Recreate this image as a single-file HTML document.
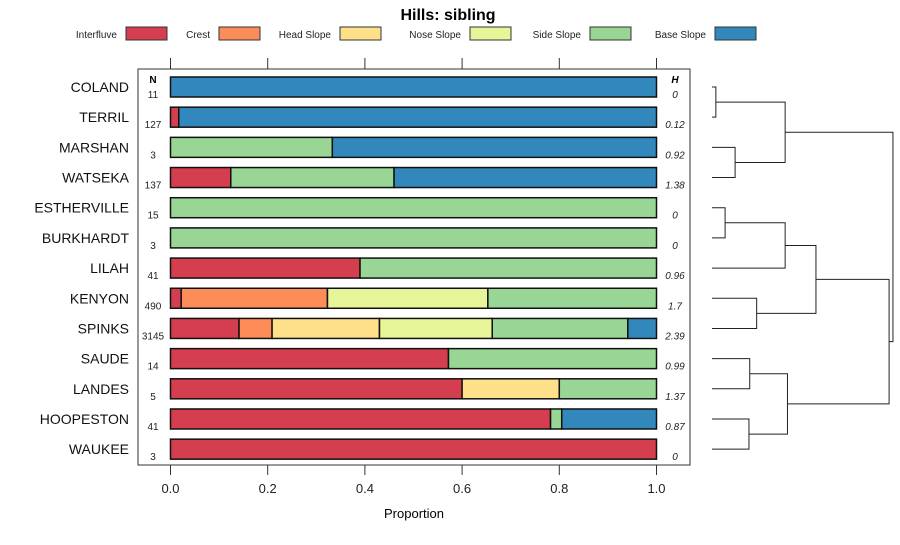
<!DOCTYPE html>
<html><head><meta charset="utf-8"><style>
body{margin:0;background:#fff;}
svg text{font-family:"Liberation Sans",sans-serif;}
</style></head><body>
<svg id="c" width="900" height="540" xmlns="http://www.w3.org/2000/svg">
<text x="448" y="20" text-anchor="middle" font-size="16" font-weight="bold">Hills: sibling</text>
<g id="legend"></g>
<rect x="138" y="69" width="552" height="396" fill="none" stroke="#333"/>
<g id="bars"></g>
<g id="axis"></g>
<text x="414" y="518" text-anchor="middle" font-size="13">Proportion</text>
<g id="dendro"></g>
</svg>
<script>
const classes=["Interfluve","Crest","Head Slope","Nose Slope","Side Slope","Base Slope"];
const colors=["#D53E4F","#FC8D59","#FEE08B","#E6F598","#99D594","#3288BD"];
const series=["COLAND","TERRIL","MARSHAN","WATSEKA","ESTHERVILLE","BURKHARDT","LILAH","KENYON","SPINKS","SAUDE","LANDES","HOOPESTON","WAUKEE"];
const props=[
[0,0,0,0,0,1],
[0.017,0,0,0,0,0.983],
[0,0,0,0,0.333,0.667],
[0.124,0,0,0,0.336,0.54],
[0,0,0,0,1,0],
[0,0,0,0,1,0],
[0,0,0,0,0.61,0].map((v,i)=>i===0?0.39:v),
[0.022,0.301,0,0.33,0.347,0],
[0.141,0.068,0.221,0.232,0.279,0.059],
[0.572,0,0,0,0.428,0],
[0.6,0,0.2,0,0.2,0],
[0.782,0,0,0,0.023,0.195],
[1,0,0,0,0,0]];
const nVals=["11","127","3","137","15","3","41","490","3145","14","5","41","3"];
const hVals=["0","0.12","0.92","1.38","0","0","0.96","1.7","2.39","0.99","1.37","0.87","0"];
const ticks=[0,0.2,0.4,0.6,0.8,1.0];
const tickLabels=["0.0","0.2","0.4","0.6","0.8","1.0"];
// dendrogram merges: [left, right, height]; negative = leaf index (-(i+1)), positive = merge index+1
const merges=[[-1,-2,0.05],[-3,-4,0.3],[1,2,0.95],[-5,-6,0.17],[4,-7,0.95],[-8,-9,0.58],[5,6,1.35],[-10,-11,0.49],[-12,-13,0.48],[8,9,0.98],[7,10,2.3],[3,11,2.35]];
const NS="http://www.w3.org/2000/svg";
function mk(t,a,p){const e=document.createElementNS(NS,t);for(const k in a)e.setAttribute(k,a[k]);p.appendChild(e);return e;}
const xs=v=>170.5+v*486;
const ys=i=>87+i*30.18;
// legend
const lg=document.getElementById('legend');
const lx=[117,210,331,461,581,706];
classes.forEach((c,i)=>{
 const t=mk('text',{x:lx[i],y:38,'text-anchor':'end','font-size':'10',fill:'#222'},lg);t.textContent=c;
 
 
 const r=mk('rect',{x:lx[i]+9,y:27,width:41,height:13,fill:colors[i],stroke:'#333','stroke-width':1},lg);
 
 
});
const bg=document.getElementById('bars');
let t1=mk('text',{x:153,y:83,'text-anchor':'middle','font-size':'10','font-weight':'bold'},bg);t1.textContent='N';


let t2=mk('text',{x:675,y:83,'text-anchor':'middle','font-size':'10','font-weight':'bold','font-style':'italic'},bg);t2.textContent='H';


series.forEach((s,i)=>{
 const y=ys(i);
 const lab=mk('text',{x:129,y:y+5,'text-anchor':'end','font-size':'14',fill:'#111'},bg);lab.textContent=s;
 
 
 let cum=0;
 props[i].forEach((v,k)=>{
  if(v<=0)return;
  const r=mk('rect',{x:xs(cum),y:y-10,width:xs(cum+v)-xs(cum),height:20,fill:colors[k],stroke:'#111','stroke-width':1.5},bg);
  
  
  cum+=v;
 });
 const n=mk('text',{x:153,y:y+11,'text-anchor':'middle','font-size':'10',fill:'#222'},bg);n.textContent=nVals[i];
 
 
 const h=mk('text',{x:675,y:y+11,'text-anchor':'middle','font-size':'10','font-style':'italic',fill:'#222'},bg);h.textContent=hVals[i];
 
 
});
const ax=document.getElementById('axis');
ticks.forEach((v,i)=>{
 mk('line',{x1:xs(v),x2:xs(v),y1:465,y2:475,stroke:'#333'},ax);
 mk('line',{x1:xs(v),x2:xs(v),y1:58,y2:69,stroke:'#333'},ax);
 const t=mk('text',{x:xs(v),y:493,'text-anchor':'middle','font-size':'13',fill:'#222'},ax);t.textContent=tickLabels[i];
 
 
});
// dendrogram
const dg=document.getElementById('dendro');
const dx=h=>712+h*77;
const pos=[];
function node(id){ if(id<0) return {y:ys(-id-1),h:0}; return pos[id-1]; }
merges.forEach((m,i)=>{
 const a=node(m[0]),b=node(m[1]),hx=dx(m[2]);
 const p=mk('path',{d:`M${dx(a.h)},${a.y}H${hx}V${b.y}H${dx(b.h)}`,fill:'none',stroke:'#222','stroke-width':1},dg);
 
 
 pos.push({y:(a.y+b.y)/2,h:m[2]});
});
</script>
</body></html>
